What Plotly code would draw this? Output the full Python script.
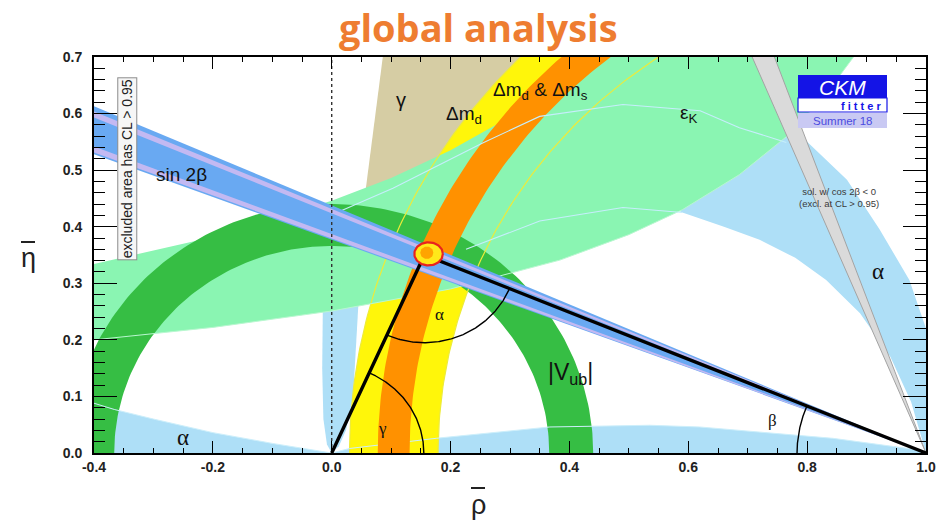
import numpy as np
import plotly.graph_objects as go

# ---------------------------------------------------------------- axes
RHO_RANGE = [-0.4, 1.0]
ETA_RANGE = [0.0, 0.7]
RHO_TICKS = [-0.4, -0.2, 0.0, 0.2, 0.4, 0.6, 0.8, 1.0]
RHO_TICK_TEXT = ["-0.4", "-0.2", "0.0", "0.2", "0.4", "0.6", "0.8", "1.0"]
ETA_TICKS = [0.0, 0.1, 0.2, 0.3, 0.4, 0.5, 0.6, 0.7]
ETA_TICK_TEXT = ["0.0", "0.1", "0.2", "0.3", "0.4", "0.5", "0.6", "0.7"]

# ---------------------------------------------------------------- fit results
APEX_RHO = 0.156
APEX_ETA = 0.350

# sin 2beta: wedge from (1, 0), opening angles in degrees
SIN2B_BAND_DEG = [20.66, 23.64]
SIN2B_STRIPE_LOW_DEG = [20.77, 21.16]
SIN2B_STRIPE_HIGH_DEG = [22.96, 23.33]

# |Vub| annulus around the origin
VUB_RADII = [0.366, 0.440]

# Delta m_d and Delta m_d & Delta m_s annuli
DM_CENTER_RHO = 1.025
DMD_RADII = [0.846, 0.995]
DMS_RADII = [0.894, 0.9475]

# gamma wedge from the origin (degrees) and the eta where it emerges
GAMMA_DEG = [63.0, 83.0]
GAMMA_ETA_START = 0.28

# cos 2beta < 0 solution: wedge from (1, 0) through these rho values at eta = 0.7
COS2B_TOP_RHO = [0.7075, 0.745]

# epsilon_K band boundaries
EPSK_UPPER_RHO = [-0.45, -0.4, -0.2, 0.0, 0.1, 0.2, 0.3, 0.4, 0.436]
EPSK_UPPER_ETA = [0.322, 0.334, 0.382, 0.446, 0.486, 0.535, 0.594, 0.669, 0.700]
EPSK_LOWER_RHO = [-0.45, -0.4, -0.2, 0.0, 0.2, 0.384, 0.5, 0.59, 0.686, 0.765, 0.83, 0.878]
EPSK_LOWER_ETA = [0.195, 0.200, 0.222, 0.251, 0.290, 0.341, 0.386, 0.430, 0.492, 0.559, 0.632, 0.700]

# alpha: allowed regions
ALPHA_LEFT_RHO = [-0.45, -0.4, -0.366, -0.3, -0.2, -0.1, 0.0, -0.45]
ALPHA_LEFT_ETA = [0.100, 0.088, 0.077, 0.060, 0.036, 0.017, 0.0, 0.0]
ALPHA_BOTTOM_RHO = [0.0, 0.03, 0.176, 0.367, 0.535, 0.619, 0.843, 0.984, 1.0, 0.0]
ALPHA_BOTTOM_ETA = [0.0, 0.008, 0.026, 0.046, 0.049, 0.046, 0.026, 0.006, 0.0, 0.0]
ALPHA_MID_RHO = [0.0, -0.008, -0.014, -0.016, -0.015, -0.012, 0.048, 0.042, 0.036, 0.024, 0.012, 0.0]
ALPHA_MID_ETA = [0.0, 0.015, 0.06, 0.15, 0.25, 0.32, 0.32, 0.2, 0.1, 0.04, 0.012, 0.0]
ALPHA_RIGHT_RHO = [1.05, 1.0, 0.972, 0.922, 0.867, 0.80, 0.74, 0.68, 0.50, 0.59, 0.66, 0.72,
                   0.78, 0.832, 0.889, 0.94, 0.975, 1.0, 1.05]
ALPHA_RIGHT_ETA = [0.20, 0.22, 0.306, 0.395, 0.483, 0.55, 0.60, 0.64, 0.47, 0.425, 0.40, 0.377,
                   0.345, 0.306, 0.247, 0.17, 0.09, 0.0, 0.0]

# faint contour lines
PALE_ARC1_RHO = [0.013, 0.103, 0.254, 0.35, 0.49, 0.62, 0.686, 0.765]
PALE_ARC1_ETA = [0.427, 0.468, 0.548, 0.595, 0.616, 0.605, 0.575, 0.549]
PALE_ARC2_RHO = [0.226, 0.35, 0.49, 0.59]
PALE_ARC2_ETA = [0.36, 0.41, 0.434, 0.425]

# angle arcs
ANGLE_ARC_R = 0.155
BETA_ARC_R = 0.217

# ---------------------------------------------------------------- colours
C_GAMMA = "#D6CDA4"
C_ALPHA = "#AEDFF7"
C_DMD = "#FFF60A"
C_DMS = "#FF9100"
C_EPSK = "#8AF5B2"
C_VUB = "#36BE44"
C_SIN2B = "#69A9F2"
C_STRIPE = "#C3B9F2"
C_GREY = "#DADADA"


def arc(cx, cy, r, a0, a1, n=160):
    t = np.radians(np.linspace(a0, a1, n))
    return cx + r * np.cos(t), cy + r * np.sin(t)


def annulus(cx, cy, r1, r2, a0, a1):
    xo, yo = arc(cx, cy, r2, a0, a1)
    xi, yi = arc(cx, cy, r1, a1, a0)
    return np.concatenate([xo, xi]), np.concatenate([yo, yi])


def wedge(x0, y0, d0, d1, length=2.2):
    t0, t1 = np.radians(d0), np.radians(d1)
    xs = [x0, x0 + length * np.cos(t0), x0 + length * np.cos(t1), x0]
    ys = [y0, y0 + length * np.sin(t0), y0 + length * np.sin(t1), y0]
    return xs, ys


fig = go.Figure()


def area(xs, ys, color, name):
    fig.add_trace(go.Scatter(x=list(xs), y=list(ys), mode="lines", fill="toself",
                             fillcolor=color, line=dict(width=0), name=name,
                             hoverinfo="skip", showlegend=False))


def curve(xs, ys, color, width, name, dash=None):
    fig.add_trace(go.Scatter(x=list(xs), y=list(ys), mode="lines",
                             line=dict(color=color, width=width, dash=dash), name=name,
                             hoverinfo="skip", showlegend=False))


# gamma wedge (cut where it disappears under the epsilon_K band)
g0, g1 = np.radians(GAMMA_DEG[0]), np.radians(GAMMA_DEG[1])
gx = [GAMMA_ETA_START / np.tan(g1), 0.9 / np.tan(g1), 0.9 / np.tan(g0), GAMMA_ETA_START / np.tan(g0)]
gy = [GAMMA_ETA_START, 0.9, 0.9, GAMMA_ETA_START]
area(gx, gy, C_GAMMA, "gamma")

# alpha regions
area(ALPHA_LEFT_RHO, ALPHA_LEFT_ETA, C_ALPHA, "alpha")
area(ALPHA_BOTTOM_RHO, ALPHA_BOTTOM_ETA, C_ALPHA, "alpha")
area(ALPHA_MID_RHO, ALPHA_MID_ETA, C_ALPHA, "alpha")
area(ALPHA_RIGHT_RHO, ALPHA_RIGHT_ETA, C_ALPHA, "alpha")

# Delta m_d
x, y = annulus(DM_CENTER_RHO, 0.0, DMD_RADII[0], DMD_RADII[1], 90, 180)
area(x, y, C_DMD, "dmd")

# epsilon_K
ek_x = EPSK_UPPER_RHO + EPSK_LOWER_RHO[::-1]
ek_y = EPSK_UPPER_ETA + EPSK_LOWER_ETA[::-1]
area(ek_x, ek_y, C_EPSK, "epsK")

# |Vub|
x, y = annulus(0.0, 0.0, VUB_RADII[0], VUB_RADII[1], 0, 180)
area(x, y, C_VUB, "Vub")

# faint contours over the lower layers
for r in DMD_RADII:
    x, y = arc(DM_CENTER_RHO, 0.0, r, 90, 180)
    curve(x, y, "#EDEB3A", 1.2, "dmd edge")
curve(EPSK_LOWER_RHO, EPSK_LOWER_ETA, "#B9F7D0", 1.0, "epsK edge")
curve(ALPHA_LEFT_RHO[:7], ALPHA_LEFT_ETA[:7], "#CDEFFB", 1.0, "alpha edge")
curve(ALPHA_BOTTOM_RHO[:9], ALPHA_BOTTOM_ETA[:9], "#CDEFFB", 1.0, "alpha edge")

# Delta m_d & Delta m_s
x, y = annulus(DM_CENTER_RHO, 0.0, DMS_RADII[0], DMS_RADII[1], 90, 180)
area(x, y, C_DMS, "dms")

curve(PALE_ARC1_RHO, PALE_ARC1_ETA, "#C6EEFC", 1.1, "alpha contour")
curve(PALE_ARC2_RHO, PALE_ARC2_ETA, "#C6EEFC", 1.1, "alpha contour")

# sin 2beta
x, y = wedge(1.0, 0.0, 180 - SIN2B_BAND_DEG[0], 180 - SIN2B_BAND_DEG[1])
area(x, y, C_SIN2B, "sin2b")
for band in (SIN2B_STRIPE_LOW_DEG, SIN2B_STRIPE_HIGH_DEG):
    x, y = wedge(1.0, 0.0, 180 - band[0], 180 - band[1])
    area(x, y, C_STRIPE, "sin2b stripe")

# cos 2beta < 0 solution
cx = [1.0] + [1.0 + (r - 1.0) * 0.8 / 0.7 for r in COS2B_TOP_RHO[::-1]] + [1.0]
cy = [0.0, 0.8, 0.8, 0.0]
area(cx, cy, C_GREY, "cos2b")
for r in COS2B_TOP_RHO:
    curve([1.0, 1.0 + (r - 1.0) * 0.8 / 0.7], [0.0, 0.8], "#A3A3A3", 1.0, "cos2b edge")

# rho = 0
curve([0.0, 0.0], [0.0, 0.7], "#333333", 1.4, "rho0", dash="3px,3px")

# unitarity triangle
curve([0.0, APEX_RHO, 1.0], [0.0, APEX_ETA, 0.0], "black", 3.4, "triangle")

gamma_apex = np.degrees(np.arctan2(APEX_ETA, APEX_RHO))
beta_apex = np.degrees(np.arctan2(APEX_ETA, 1.0 - APEX_RHO))
x, y = arc(0.0, 0.0, ANGLE_ARC_R, 0.0, gamma_apex)
curve(x, y, "black", 1.4, "gamma arc")
x, y = arc(APEX_RHO, APEX_ETA, ANGLE_ARC_R, 180 + gamma_apex, 360 - beta_apex)
curve(x, y, "black", 1.4, "alpha arc")
x, y = arc(1.0, 0.0, BETA_ARC_R, 180 - beta_apex, 180)
curve(x, y, "black", 1.4, "beta arc")

# global fit region around the apex
ex, ey = arc(APEX_RHO + 0.007, APEX_ETA + 0.002, 0.024, 0, 360, 90)
ey = APEX_ETA + 0.002 + (ey - APEX_ETA - 0.002) * 0.85
fig.add_trace(go.Scatter(x=ex, y=ey, mode="lines", fill="toself", fillcolor="#FFE81A",
                         line=dict(color="#E8231E", width=2.2), hoverinfo="skip", showlegend=False))
ex2, ey2 = arc(APEX_RHO + 0.004, APEX_ETA + 0.004, 0.011, 0, 360, 60)
fig.add_trace(go.Scatter(x=ex2, y=ey2, mode="lines", fill="toself", fillcolor="#FFA400",
                         line=dict(width=0), hoverinfo="skip", showlegend=False))

# ---------------------------------------------------------------- labels
SANS = "Liberation Sans, Arial, sans-serif"
SERIF = "Liberation Serif, Times New Roman, serif"


def label(x, y, text, size, family=SANS, color="#111111", **kw):
    fig.add_annotation(x=x, y=y, xref="x", yref="y", text=text, showarrow=False,
                       xanchor="center", yanchor="middle",
                       font=dict(size=size, family=family, color=color), **kw)


label(-0.252, 0.492, "sin 2β", 19)
label(0.117, 0.624, "γ", 20)
label(0.352, 0.640, "Δm<sub>d</sub> &amp; Δm<sub>s</sub>", 19)
label(0.222, 0.598, "Δm<sub>d</sub>", 19)
label(0.600, 0.600, "ε<sub>K</sub>", 19)
label(0.402, 0.140, "|V<sub>ub</sub>|", 23)
label(0.181, 0.244, "α", 17, SERIF)
label(0.086, 0.044, "γ", 17, SERIF)
label(0.742, 0.058, "β", 17, SERIF)
label(-0.250, 0.028, "α", 23, SERIF)
label(0.919, 0.321, "α", 23, SERIF)
label(0.853, 0.451, "sol. w/ cos 2β &lt; 0<br>(excl. at CL &gt; 0.95)", 9.5, color="#3a3a3a")
label(-0.344, 0.502, "excluded area has CL &gt; 0.95", 14, color="#222222",
      textangle=-90, bordercolor="#8c8c8c", borderwidth=1, borderpad=1, bgcolor="#F6F6F6")

# CKMfitter badge and titles, placed in pixel terms of the plotting area
L, R, T, B = 94, 926, 57, 453


def px(xp):
    return (xp - L) / (R - L)


def py(yp):
    return (B - yp) / (B - T)


def paper_text(xp, yp, text, size, family, color):
    fig.add_annotation(xref="paper", yref="paper", x=px(xp), y=py(yp), text=text, showarrow=False,
                       xanchor="center", yanchor="middle",
                       font=dict(size=size, family=family, color=color))


def paper_rect(x0, y0, x1, y1, fill, line=None):
    fig.add_shape(type="rect", xref="paper", yref="paper", x0=px(x0), x1=px(x1), y0=py(y1), y1=py(y0),
                  fillcolor=fill, line=line or dict(width=0), layer="above")


paper_rect(798, 75, 887, 98, "#1414E6")
paper_rect(798, 98, 887, 112, "white", dict(color="#1414E6", width=1.2))
paper_rect(798, 113, 887, 128, "#C9C9F3")
paper_text(842, 87, "<i>CKM</i>", 21, SANS, "white")
paper_text(861, 105.5, "<b>f i t t e r</b>", 11, SANS, "#1414E6")
paper_text(842, 121, "Summer 18", 11.5, SANS, "#4B4BE0")

paper_text(478, 27, "<b>global analysis</b>", 38, "Open Sans, sans-serif", "#EE7D31")

# axis titles with overbars
paper_text(28, 258, "η", 27, SANS, "#222222")
fig.add_shape(type="line", xref="paper", yref="paper", x0=px(21), x1=px(35), y0=py(242), y1=py(242),
              line=dict(color="#222222", width=2))
paper_text(478, 505, "ρ", 27, SANS, "#222222")
fig.add_shape(type="line", xref="paper", yref="paper", x0=px(471), x1=px(485), y0=py(488), y1=py(488),
              line=dict(color="#222222", width=2))

axis_common = dict(showline=True, linecolor="black", linewidth=2, mirror="ticks", ticks="inside",
                   showgrid=False, zeroline=False, tickcolor="black", tickwidth=1.3,
                   tickfont=dict(size=14, family=SANS, color="#222222"))

fig.update_xaxes(range=RHO_RANGE, tickvals=RHO_TICKS, ticktext=["<b>%s</b>" % t for t in RHO_TICK_TEXT],
                 ticklen=12, minor=dict(dtick=0.05, ticklen=5, ticks="inside", tickcolor="black"),
                 **axis_common)
fig.update_yaxes(range=ETA_RANGE, tickvals=ETA_TICKS, ticktext=["<b>%s</b>" % t for t in ETA_TICK_TEXT],
                 ticklen=23, ticklabelstandoff=7,
                 minor=dict(dtick=0.02, ticklen=11, ticks="inside", tickcolor="black"),
                 **axis_common)

fig.update_layout(width=948, height=527, margin=dict(l=L, r=948 - R, t=T, b=527 - B),
                  plot_bgcolor="white", paper_bgcolor="white", showlegend=False)

fig.write_html("out.html")
